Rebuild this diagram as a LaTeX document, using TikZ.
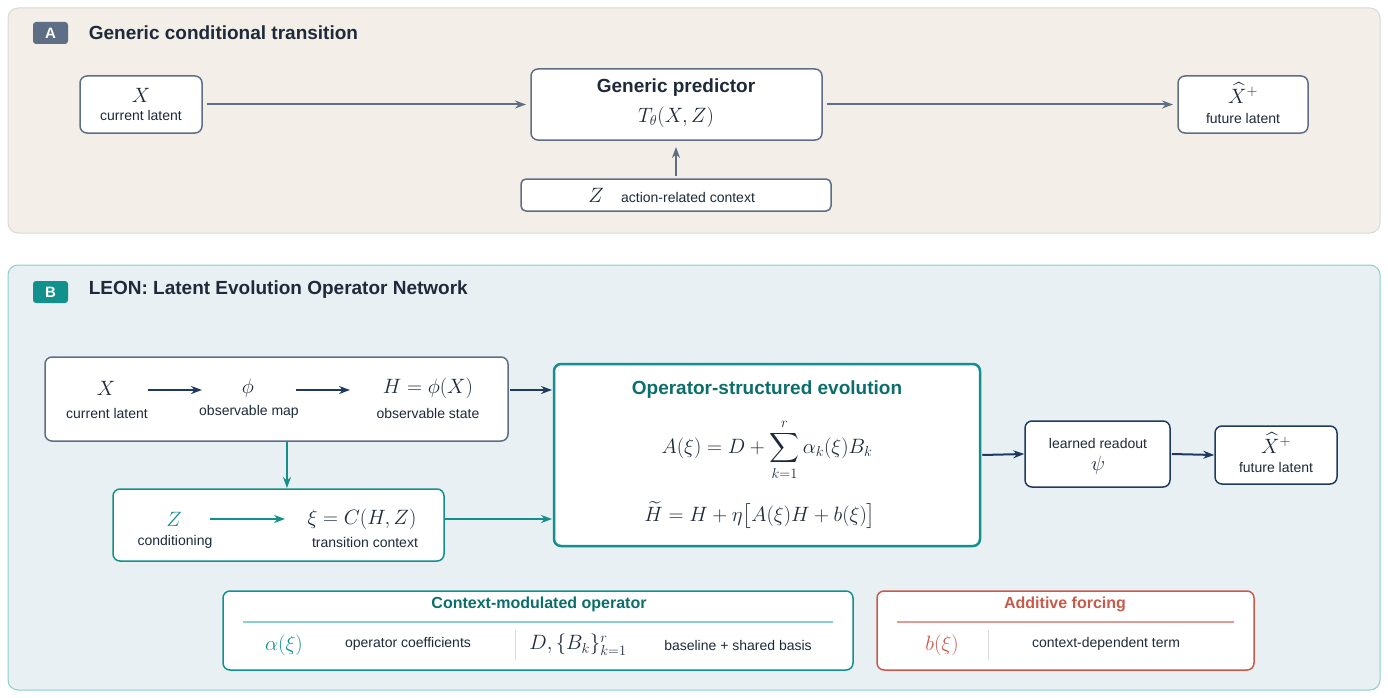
\documentclass[tikz,border=0pt]{standalone}
\usepackage{amsmath}
\usepackage{fontspec}
\setmainfont{Liberation Sans}
\usetikzlibrary{arrows.meta,positioning}
\definecolor{navy}{HTML}{1F3A5F}
\definecolor{slate}{HTML}{5E6F85}
\definecolor{teal}{HTML}{12908C}
\definecolor{dteal}{HTML}{0B6E6B}
\definecolor{lteal}{HTML}{8ACFCB}
\definecolor{rust}{HTML}{C85A4C}
\definecolor{sand}{HTML}{F3EEE7}
\definecolor{mist}{HTML}{E8F0F3}
\definecolor{ink}{HTML}{1E2A3A}
\tikzset{every picture/.style={line width=1pt}}
\tikzset{
  box/.style={draw=#1, fill=white, rounded corners=7pt, line width=1.5pt},
  lbl/.style={font=\fontsize{14}{16}\selectfont, text=ink},
  mth/.style={font=\fontsize{20}{22}\selectfont, text=ink},
  head/.style={font=\fontsize{19}{22}\selectfont\bfseries, text=ink, anchor=west},
  badge/.style={fill=#1, rounded corners=3pt, minimum width=35pt, minimum height=22pt, text=white, font=\fontsize{15}{17}\selectfont\bfseries},
  arr/.style={-{Stealth[length=11pt,width=8pt]}, line width=2pt, draw=#1},
}
\begin{document}
\begin{tikzpicture}[x=1pt,y=1pt,yscale=-1]
\useasboundingbox (0,0) rectangle (1388,698);
% panel A
\draw[fill=sand, draw=black!15, rounded corners=10pt] (8,8) rectangle (1380,233);
\node[badge=slate] (bA) at (50.5,33) {A};
\node[head] (hA) at (85,33) {Generic conditional transition};
\node[box=slate, minimum width=122pt, minimum height=57pt] (xa) at (141,104.5) {};
\node[mth] (xasym) at (141,95) {$X$};
\node[lbl] (xatxt) at (141,115) {current latent};
\node[box=slate, minimum width=291pt, minimum height=71pt] (gp) at (676.5,104.5) {};
\node[font=\fontsize{19}{22}\selectfont\bfseries, text=ink] (gptit) at (676,88) {Generic predictor};
\node[mth] (gpf) at (676,117) {$T_\theta(X,Z)$};
\node[box=slate, minimum width=130pt, minimum height=57pt] (xha) at (1243,104.5) {};
\node[mth] (xhasym) at (1243,93) {$\widehat{X}^{+}$};
\node[lbl] (xhatxt) at (1243,118) {future latent};
\node[box=slate, minimum width=310pt, minimum height=32pt, rounded corners=5pt] (za) at (676,195) {};
\node[mth] (zasym) at (596,195) {$Z$};
\node[lbl] (zatxt) at (688,197) {action-related context};
\draw[arr=slate] (xa.east) ++(4,0) -- (526,104.5);
\draw[arr=slate] (gp.east) ++(4,0) -- (1173,104.5);
\draw[arr=slate] (za.north) ++(0,-2) -- (676,147);
% panel B
\draw[fill=mist, draw=lteal, rounded corners=10pt] (8,265) rectangle (1380,690);
\node[badge=teal] (bB) at (50.5,292) {B};
\node[head] (hB) at (85,290) {LEON: Latent Evolution Operator Network};
% encoder
\node[box=slate, minimum width=463pt, minimum height=84pt] (enc) at (276.5,399) {};
\node[mth] (xb) at (106,388) {$X$};
\node[lbl] (xbtxt) at (107,413) {current latent};
\node[mth] (phi) at (248,388) {$\phi$};
\node[lbl] (phitxt) at (249,412) {observable map};
\node[mth] (hb) at (428,388) {$H=\phi(X)$};
\node[lbl] (hbtxt) at (428,413) {observable state};
\draw[arr=navy] (148,390) -- (202,390);
\draw[arr=navy] (296,390) -- (350,390);
% context
\node[box=teal, minimum width=331pt, minimum height=72pt] (ctx) at (278.5,525) {};
\node[mth, text=teal] (zb) at (174,519) {$Z$};
\node[lbl] (zbtxt) at (175,542) {conditioning};
\node[mth] (xi) at (362,519) {$\xi=C(H,Z)$};
\node[lbl] (xitxt) at (365,542) {transition context};
\draw[arr=teal] (210,519) -- (285,519);
\draw[arr=teal] (287,442) -- (287,488);
% operator
\node[box=teal, line width=2.5pt, minimum width=426pt, minimum height=182pt] (op) at (767,455) {};
\node[font=\fontsize{19}{22}\selectfont\bfseries, text=dteal] (optit) at (767,390) {Operator-structured evolution};
\node[mth] (opa) at (767,450) {$A(\xi)=D+\displaystyle\sum_{k=1}^{r}\alpha_k(\xi)B_k$};
\node[mth] (oph) at (760,515) {$\widetilde{H}=H+\eta\bigl[A(\xi)H+b(\xi)\bigr]$};
\draw[arr=navy] (510,390) -- (552,390);
\draw[arr=teal] (445,519) -- (552,519);
% readout
\node[box=navy, minimum width=145pt, minimum height=66pt] (ro) at (1097.5,454) {};
\node[lbl] (rotxt) at (1098,443) {learned readout};
\node[mth] (psi) at (1098,465) {$\psi$};
\node[box=navy, minimum width=122pt, minimum height=58pt] (xhb) at (1276,455) {};
\node[mth] (xhbsym) at (1276,443) {$\widehat{X}^{+}$};
\node[lbl] (xhbtxt) at (1276,467) {future latent};
\draw[arr=navy] (op.east) ++(1,0) -- (ro.west);
\draw[arr=navy] (ro.east) ++(1,0) -- (xhb.west);
% bottom cards
\node[box=teal, minimum width=630pt, minimum height=79pt] (cmo) at (538,630.5) {};
\node[font=\fontsize{16}{18}\selectfont\bfseries, text=dteal] (cmotit) at (539,604) {Context-modulated operator};
\draw[lteal, line width=1.2pt] (243,622) -- (833,622);
\node[mth, text=teal] (al) at (284,645) {$\alpha(\xi)$};
\node[lbl] (altxt) at (408,644) {operator coefficients};
\draw[black!15] (515,630) -- (515,660);
\node[mth] (db) at (578,645) {$D,\{B_k\}_{k=1}^{r}$};
\node[lbl] (dbtxt) at (738,645) {baseline + shared basis};
\node[box=rust, minimum width=377pt, minimum height=79pt] (af) at (1065.5,630.5) {};
\node[font=\fontsize{16}{18}\selectfont\bfseries, text=rust] (aftit) at (1065,604) {Additive forcing};
\draw[rust!60, line width=1.2pt] (897,622) -- (1234,622);
\node[mth, text=rust] (bx) at (942,645) {$b(\xi)$};
\draw[black!15] (988,630) -- (988,660);
\node[lbl] (bxtxt) at (1106,644) {context-dependent term};
\end{tikzpicture}
\end{document}
